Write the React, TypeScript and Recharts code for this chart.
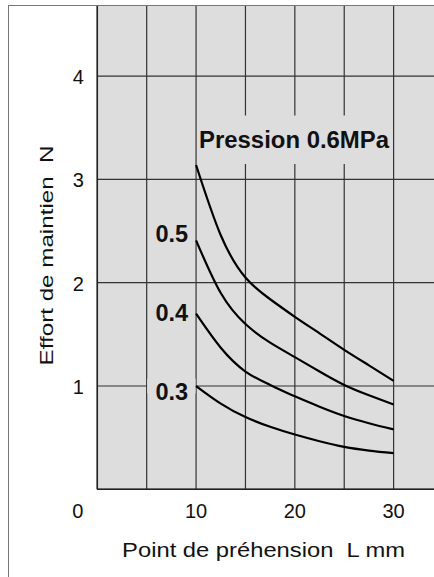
import React from "react";
import {
  LineChart,
  Line,
  XAxis,
  YAxis,
  CartesianGrid,
  ReferenceArea,
  ReferenceDot,
} from "recharts";

// Point de préhension L (mm)
const lengths = [10, 12.5, 15, 17.5, 20, 22.5, 25, 27.5, 30];
// Effort de maintien (N) par pression
const force06 = [3.14, 2.46, 2.05, 1.84, 1.67, 1.51, 1.35, 1.2, 1.05];
const force05 = [2.41, 1.9, 1.6, 1.42, 1.28, 1.14, 1.01, 0.91, 0.82];
const force04 = [1.7, 1.37, 1.14, 1.01, 0.9, 0.8, 0.71, 0.64, 0.58];
const force03 = [1.0, 0.83, 0.7, 0.605, 0.53, 0.465, 0.41, 0.375, 0.35];

const xTicks = [0, 5, 10, 15, 20, 25, 30, 35];
const xLabels = [0, 10, 20, 30];
const yTicks = [0, 1, 2, 3, 4];
const yLabels = [1, 2, 3, 4];

const data = lengths.map((l, i) => ({
  l,
  p06: force06[i],
  p05: force05[i],
  p04: force04[i],
  p03: force03[i],
}));

const FONT = '"Liberation Sans", Arial, Helvetica, sans-serif';
const GRID = "#333";
const BG = "#dddddd";

// label near the start of each curve, dy = baseline offset from first point
const curveLabels = [
  { text: "0.5", y: force05[0], dy: 2 },
  { text: "0.4", y: force04[0], dy: 7 },
  { text: "0.3", y: force03[0], dy: 14 },
];

function XTick({ x, y, payload }: any) {
  const v = payload.value;
  if (!xLabels.includes(v)) return null;
  return (
    <text
      x={v === 0 ? x - 19.5 : x}
      y={y + 29}
      textAnchor="middle"
      fontSize={20}
      fontFamily={FONT}
      fill="#111"
    >
      {v}
    </text>
  );
}

function YTick({ x, y, payload }: any) {
  const v = payload.value;
  if (!yLabels.includes(v)) return null;
  return (
    <text x={x - 13.5} y={y + 8} textAnchor="end" fontSize={20} fontFamily={FONT} fill="#111">
      {v}
    </text>
  );
}

export default function App() {
  return (
    <div
      style={{
        position: "fixed",
        left: 0,
        top: 0,
        width: 434,
        height: 577,
        overflow: "hidden",
        background: "#fff",
      }}
    >
      <LineChart
        width={443}
        height={577}
        data={data}
        margin={{ top: 5.5, right: 0, bottom: 0, left: 0 }}
      >
        <CartesianGrid stroke={GRID} strokeWidth={1.2} fill={BG} fillOpacity={1} />
        <XAxis
          dataKey="l"
          type="number"
          domain={[0, 35]}
          ticks={xTicks}
          height={87.7}
          tickSize={0}
          tickMargin={0}
          tickLine={false}
          axisLine={{ stroke: "#222", strokeWidth: 1.5 }}
          tick={<XTick />}
          interval={0}
          label={{
            content: ({ viewBox }: any) => (
              <text
                x={viewBox.x + 166.3}
                y={viewBox.y + 68}
                textAnchor="middle"
                fontSize={20.5}
                fontFamily={FONT}
                fill="#111"
                textLength={283}
                lengthAdjust="spacingAndGlyphs"
              >
                {"Point de préhension \u00a0L mm"}
              </text>
            ),
          }}
        />
        <YAxis
          type="number"
          domain={[0, 4.684]}
          ticks={yTicks}
          width={97.3}
          tickSize={0}
          tickMargin={0}
          tickLine={false}
          axisLine={{ stroke: "#222", strokeWidth: 1.5 }}
          tick={<YTick />}
          interval={0}
          label={{
            content: ({ viewBox }: any) => {
              const cx = 53;
              const cy = viewBox.y + viewBox.height / 2 + 8;
              return (
                <text
                  x={cx}
                  y={cy}
                  transform={`rotate(-90 ${cx} ${cy})`}
                  textAnchor="middle"
                  fontSize={19}
                  fontFamily={FONT}
                  fill="#111"
                  textLength={220}
                  lengthAdjust="spacingAndGlyphs"
                >
                  {"Effort de maintien \u00a0N"}
                </text>
              );
            },
          }}
        />
        <ReferenceArea
          x1={10.3}
          x2={29.7}
          y1={3.15}
          y2={3.62}
          fill={BG}
          fillOpacity={1}
          stroke="none"
          label={{
            content: ({ viewBox }: any) => (
              <text
                x={viewBox.x}
                y={viewBox.y + 32.5}
                fontSize={23.5}
                fontWeight="bold"
                fontFamily={FONT}
                fill="#111"
                textLength={190}
                lengthAdjust="spacingAndGlyphs"
              >
                Pression 0.6MPa
              </text>
            ),
          }}
        />
        <ReferenceArea
          x1={5.05}
          x2={9.95}
          y1={0.93}
          y2={1.07}
          fill={BG}
          fillOpacity={1}
          stroke="none"
        />
        {curveLabels.map((c) => (
          <ReferenceDot
            key={c.text}
            x={lengths[0]}
            y={c.y}
            r={0}
            fill="none"
            stroke="none"
            label={{
              content: ({ viewBox }: any) => (
                <text
                  x={viewBox.x - 8}
                  y={viewBox.y + c.dy}
                  textAnchor="end"
                  fontSize={23.5}
                  fontWeight="bold"
                  fontFamily={FONT}
                  fill="#111"
                >
                  {c.text}
                </text>
              ),
            }}
          />
        ))}
        {["p06", "p05", "p04", "p03"].map((k) => (
          <Line
            key={k}
            dataKey={k}
            type="natural"
            stroke="#000"
            strokeWidth={2.2}
            dot={false}
            isAnimationActive={false}
          />
        ))}
      </LineChart>
      <div
        style={{
          position: "absolute",
          left: 8,
          top: 5,
          width: 480,
          height: 640,
          border: "1.5px solid #777",
          boxSizing: "border-box",
          pointerEvents: "none",
        }}
      />
    </div>
  );
}
